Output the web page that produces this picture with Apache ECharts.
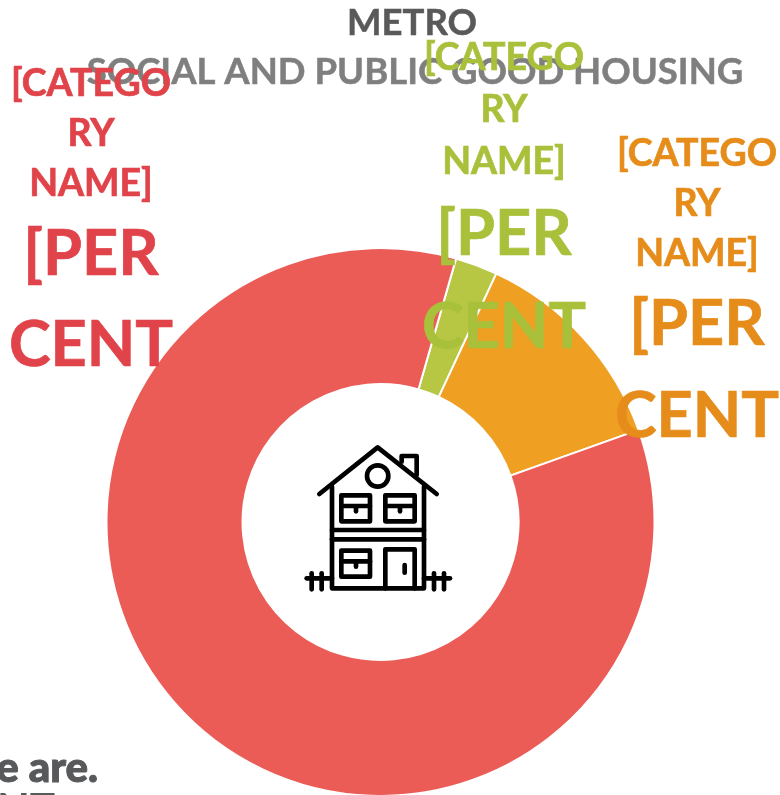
<!DOCTYPE html>
<html><head><meta charset="utf-8">
<style>html,body{margin:0;padding:0;background:#fff}#c{width:780px;height:795px}</style>
<script src="https://cdn.jsdelivr.net/npm/echarts@6/dist/echarts.min.js"></script>
</head><body><div id="c"></div>
<script>
const titleText = 'METRO';
const subtitleText = 'SOCIAL AND PUBLIC GOOD HOUSING';
const categories = ['Green', 'Orange', 'Red'];
const values = [2.5, 12.6, 84.9];
const nameLines = ['[CATEGO', 'RY', 'NAME]'];
const percentLines = ['[PER', 'CENT'];
const sliceColors = ['#B7C744', '#EF9F22', '#EB5C57'];
const labelColors = ['#A9C03B', '#E68C1A', '#E04349'];
const labelTops = [32, 129, 59];
const labelCentres = [504, 697, 91];
const nameLineHeights = [52, 50, 50];
const percentLineHeights = [93, 92, 91];
const percentGaps = [1, 3, 3];

const font = 'Lato, "Open Sans", sans-serif';
const houseLines = [
  [[148,222],[323,82],[500,222]],
  [[395,125],[395,108],[440,108],[440,165]],
  [[186,200],[186,505],[462,505],[462,200]],
  [[186,330],[462,330]], [[186,358],[462,358]],
  [[214,226],[300,226],[300,304],[214,304],[214,226]], [[214,258],[300,258]], [[258,262],[258,274]],
  [[346,226],[434,226],[434,304],[346,304],[346,226]], [[346,258],[434,258]], [[390,262],[390,274]],
  [[214,392],[300,392],[300,470],[214,470],[214,392]], [[214,424],[300,424]], [[258,428],[258,440]],
  [[346,505],[346,388],[434,388],[434,505]], [[404,435],[404,458]],
  [[110,475],[186,475]], [[125,460],[125,508]], [[155,460],[155,508]],
  [[462,475],[540,475]], [[492,460],[492,508]], [[522,460],[522,508]]
];
const houseStroke = {fill: 'none', stroke: '#000', lineWidth: 14, lineJoin: 'round', lineCap: 'round'};

const richStyle = i => {
  const base = {color: labelColors[i], fontFamily: font, fontWeight: 700, align: 'center',
    textBorderColor: labelColors[i], textBorderWidth: 0.7};
  return {
    n: {...base, fontSize: 37.5, lineHeight: nameLineHeights[i]},
    g: {...base, fontSize: 37.5, lineHeight: nameLineHeights[i], padding: [percentGaps[i], 0, percentGaps[i], 0]},
    p: {...base, fontSize: 63, lineHeight: percentLineHeights[i]}
  };
};
const labelText = nameLines.map((s, i) => '{' + (i === nameLines.length - 1 ? 'g' : 'n') + '|' + s + '}')
  .concat(percentLines.map(s => '{p|' + s + '}')).join('\n');

const chart = echarts.init(document.getElementById('c'), null, {renderer: 'canvas'});
chart.setOption({
  animation: false,
  backgroundColor: '#fff',
  title: [
    {text: titleText, left: 407, top: 0, textAlign: 'center', z: 1,
     textStyle: {color: '#595959', fontFamily: font, fontWeight: 700, fontSize: 36.5,
       textBorderColor: '#595959', textBorderWidth: 0.5}},
    {text: subtitleText, left: 410, top: 49, textAlign: 'center', z: 1,
     textStyle: {color: '#7F7F7F', fontFamily: font, fontWeight: 700, fontSize: 36.5,
       textBorderColor: '#7F7F7F', textBorderWidth: 0.5}}
  ],
  series: [{
    type: 'pie',
    center: [380.5, 522],
    radius: [138, 274],
    startAngle: 74,
    clockwise: true,
    avoidLabelOverlap: false,
    itemStyle: {borderColor: '#fff', borderWidth: 2},
    emphasis: {disabled: true},
    labelLine: {show: false},
    data: categories.map((name, i) => ({
      name, value: values[i],
      itemStyle: {color: sliceColors[i]},
      label: {show: true, formatter: labelText, rich: richStyle(i)}
    })),
    labelLayout: p => ({
      x: labelCentres[p.dataIndex], y: labelTops[p.dataIndex],
      align: 'center', verticalAlign: 'top', hideOverlap: false, moveOverlap: false
    })
  }],
  graphic: [
    {type: 'group', silent: true, x: 270, y: 420, scaleX: 1/3, scaleY: 1/3, z: 10,
     children: houseLines.map(points => ({type: 'polyline', shape: {points}, style: houseStroke}))
       .concat([{type: 'circle', shape: {cx: 323, cy: 168, r: 32}, style: houseStroke}])},
    {type: 'text', silent: true, z: 10, x: 98, y: 768,
     style: {text: 'We are.', align: 'right', verticalAlign: 'middle',
       fill: '#58595B', font: '900 42px ' + font, stroke: '#58595B', lineWidth: 1}},
    {type: 'text', silent: true, z: 10, x: 55, y: 810,
     style: {text: 'NT', align: 'right', verticalAlign: 'middle',
       fill: '#58595B', font: '900 42px ' + font}}
  ]
});
</script></body></html>
